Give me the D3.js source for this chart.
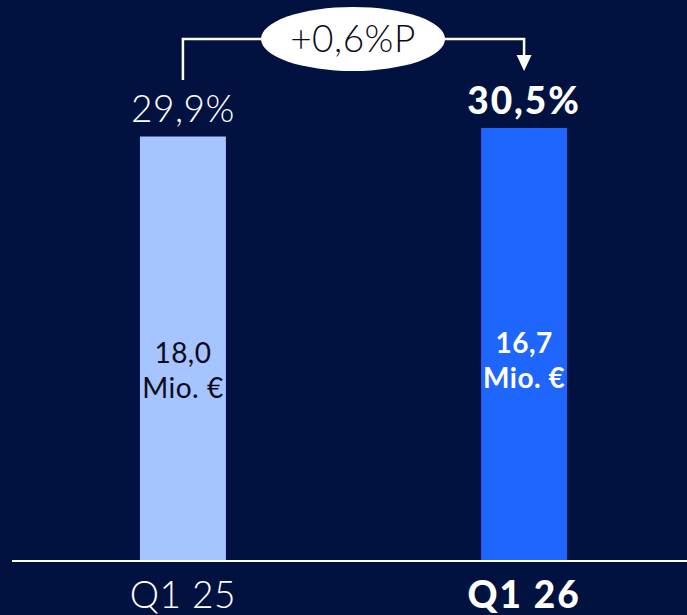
<!DOCTYPE html>
<html>
<head>
<meta charset="utf-8">
<script src="https://cdn.jsdelivr.net/npm/d3@7"></script>
<style>
  html, body { margin: 0; padding: 0; background: #021240; }
  svg { display: block; font-family: Lato, "Open Sans", sans-serif; }
</style>
</head>
<body>
<div id="chart"></div>
<script>
// data
var categories = ["Q1 25", "Q1 26"];
var margins = [29.9, 30.5];            // percent, bar height
var marginLabels = ["29,9%", "30,5%"];
var amountLabels = ["18,0", "16,7"];
var unitLabel = "Mio. €";
var deltaLabel = "+0,6%P";

var chartWidth = 687, chartHeight = 615;
var baseY = 560;

var svg = d3.select("#chart").append("svg")
    .attr("width", chartWidth)
    .attr("height", chartHeight);

svg.append("rect")
    .attr("width", chartWidth).attr("height", chartHeight)
    .attr("fill", "#021240");

var x = d3.scaleBand()
    .domain(categories)
    .range([12, 695])
    .paddingInner(0.748)
    .paddingOuter(0.375);

var y = d3.scaleLinear()
    .domain([0, 30.5])
    .range([baseY, 128]);

var barColors = ["#a6c4ff", "#1f66ff"];
var innerText = ["#0b0b1a", "#ffffff"];

// bars
svg.selectAll("rect.bar")
    .data(margins)
  .enter().append("rect")
    .attr("class", "bar")
    .attr("x", function(d, i) { return x(categories[i]); })
    .attr("y", function(d) { return y(d); })
    .attr("width", x.bandwidth())
    .attr("height", function(d) { return baseY - y(d); })
    .attr("fill", function(d, i) { return barColors[i]; });

// baseline
svg.append("line")
    .attr("x1", 12).attr("x2", chartWidth)
    .attr("y1", baseY + 1).attr("y2", baseY + 1)
    .attr("stroke", "#ffffff")
    .attr("stroke-width", 2);

function cx(i) { return x(categories[i]) + x.bandwidth() / 2; }

// margin labels on top
svg.selectAll("text.pct")
    .data(marginLabels)
  .enter().append("text")
    .attr("class", "pct")
    .attr("x", function(d, i) { return cx(i); })
    .attr("y", function(d, i) { return y(margins[i]) - 14; })
    .attr("text-anchor", "middle")
    .attr("fill", "#ffffff")
    .style("font-size", function(d, i) { return i === 1 ? "37px" : "37px"; })
    .style("font-weight", function(d, i) { return i === 1 ? 900 : 300; })
    .style("letter-spacing", function(d, i) { return i === 1 ? "2px" : "0.5px"; })
    .text(function(d) { return d; });

// amount labels inside bars
var inner = svg.selectAll("g.inner")
    .data(amountLabels)
  .enter().append("g")
    .attr("class", "inner")
    .attr("transform", function(d, i) {
      return "translate(" + cx(i) + "," + (i === 0 ? 363 : 353) + ")";
    });

inner.append("text")
    .attr("text-anchor", "middle")
    .attr("fill", function(d, i) { return innerText[i]; })
    .style("font-size", "28px")
    .style("font-weight", function(d, i) { return i === 1 ? 700 : 400; })
    .style("letter-spacing", "0.5px")
    .text(function(d) { return d; });

inner.append("text")
    .attr("y", 35)
    .attr("text-anchor", "middle")
    .attr("fill", function(d, i) { return innerText[i]; })
    .style("font-size", "28px")
    .style("font-weight", function(d, i) { return i === 1 ? 700 : 400; })
    .style("letter-spacing", "0.5px")
    .text(unitLabel);

// category labels
svg.selectAll("text.cat")
    .data(categories)
  .enter().append("text")
    .attr("class", "cat")
    .attr("x", function(d, i) { return cx(i); })
    .attr("y", 608)
    .attr("text-anchor", "middle")
    .attr("fill", "#ffffff")
    .style("font-size", "37px")
    .style("font-weight", function(d, i) { return i === 1 ? 900 : 300; })
    .style("letter-spacing", function(d, i) { return i === 1 ? "2px" : "0.5px"; })
    .text(function(d) { return d; });

// change annotation: bracket from left label to right label
var lineY = 39, x0 = cx(0), x1 = cx(1);
svg.append("path")
    .attr("d", "M" + x0 + "," + 80 + "V" + lineY + "H" + x1 + "V" + 56)
    .attr("fill", "none")
    .attr("stroke", "#ffffff")
    .attr("stroke-width", 2.5);

svg.append("path")
    .attr("d", "M" + (x1 - 7.5) + ",55L" + (x1 + 7.5) + ",55L" + x1 + ",71Z")
    .attr("fill", "#ffffff");

var midX = 353;
svg.append("ellipse")
    .attr("cx", midX).attr("cy", lineY)
    .attr("rx", 92).attr("ry", 32)
    .attr("fill", "#ffffff");

svg.append("text")
    .attr("x", midX).attr("y", 52)
    .attr("text-anchor", "middle")
    .attr("fill", "#0b0b1a")
    .style("font-size", "37px")
    .style("font-weight", 300)
    .style("letter-spacing", "0.5px")
    .text(deltaLabel);
</script>
</body>
</html>
